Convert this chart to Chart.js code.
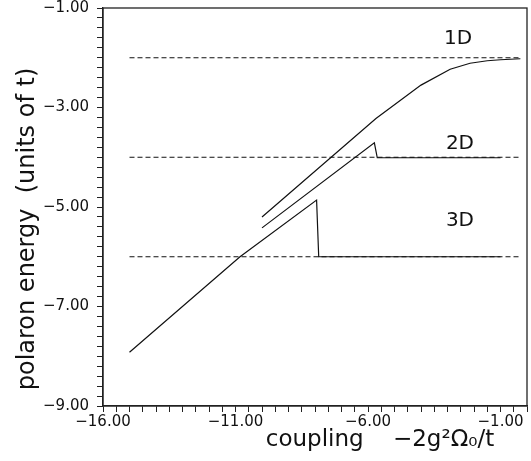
<!DOCTYPE html>
<html>
<head>
<meta charset="utf-8">
<script src="https://cdn.jsdelivr.net/npm/chart.js@4"></script>
<style>
  html, body { margin: 0; padding: 0; background: #fff; }
  #wrap { width: 531px; height: 461px; }
</style>
</head>
<body>
<div id="wrap"><canvas id="polaronChart"></canvas></div>
<script>
// curves: coupling (x) and polaron energy (y)
var oneD_x = [-10.0, -5.7, -4.0, -2.9, -2.15, -1.5, -1.0, -0.25];
var oneD_y = [-5.20, -3.22, -2.55, -2.23, -2.11, -2.06, -2.04, -2.02];
var twoD_x = [-10.0, -5.76, -5.65, -1.0];
var twoD_y = [-5.42, -3.71, -4.01, -4.01];
var threeD_x = [-15.0, -10.83, -7.94, -7.86, -1.0];
var threeD_y = [-7.92, -6.00, -4.86, -6.00, -6.00];
// dashed reference levels
var limit_levels = [-2, -4, -6];
var limit_from = -15.0;
var limit_to = -0.3;
// labels for the curves
var curve_names = ["1D", "2D", "3D"];
var name_x = [-2.6, -2.53, -2.53];
var name_y = [-1.62, -3.72, -5.27];

function toPoints(xs, ys) {
    var pts = [];
    for (var i = 0; i < xs.length; i++) {
        pts.push({x: xs[i], y: ys[i]});
    }
    return pts;
}

function fmt(v) {
    return v.toFixed(2).replace("-", "\u2212");
}

var datasets = [];
limit_levels.forEach(function(lv) {
    datasets.push({
        data: [{x: limit_from, y: lv}, {x: limit_to, y: lv}],
        borderColor: '#111',
        borderWidth: 1,
        borderDash: [5, 3],
        pointRadius: 0
    });
});
[[oneD_x, oneD_y], [twoD_x, twoD_y], [threeD_x, threeD_y]].forEach(function(c) {
    datasets.push({
        data: toPoints(c[0], c[1]),
        borderColor: '#111',
        borderWidth: 1.2,
        pointRadius: 0
    });
});

var frameAndText = {
    id: 'frameAndText',
    afterDraw: function(chart) {
        var ctx = chart.ctx;
        var a = chart.chartArea;
        var xs = chart.scales.x, ys = chart.scales.y;
        ctx.save();
        ctx.strokeStyle = '#222';
        ctx.lineWidth = 1.3;
        ctx.strokeRect(a.left, a.top, a.right - a.left, a.bottom - a.top);
        ctx.fillStyle = '#111';
        ctx.font = '20px "DejaVu Sans"';
        ctx.textAlign = 'center';
        ctx.textBaseline = 'middle';
        for (var i = 0; i < curve_names.length; i++) {
            ctx.fillText(curve_names[i], xs.getPixelForValue(name_x[i]), ys.getPixelForValue(name_y[i]));
        }
        // axis titles
        ctx.font = '23px "DejaVu Sans"';
        ctx.fillText('coupling    \u22122g\u00b2\u03a9\u2080/t', 380, 440);
        ctx.translate(28, 229);
        ctx.rotate(-Math.PI / 2);
        ctx.font = '24px "DejaVu Sans"';
        ctx.fillText('polaron energy  (units of t)', 0, 0);
        ctx.restore();
    }
};

var ctx1 = document.getElementById("polaronChart");
var polaronChart = new Chart(ctx1, {
    type: 'line',
    data: { datasets: datasets },
    options: {
        responsive: true,
        maintainAspectRatio: false,
        animation: false,
        layout: { padding: { top: 0, right: 4, left: 0, bottom: 0 } },
        plugins: { legend: { display: false }, tooltip: { enabled: false } },
        scales: {
            x: {
                type: 'linear',
                min: -16,
                max: 0,
                afterFit: function(s) {
                    s.height = 55;
                    s.paddingLeft = 0;
                    s.paddingRight = 0;
                },
                border: { display: true, color: '#222', width: 1.3 },
                grid: { drawOnChartArea: false, tickLength: 6, color: '#222' },
                ticks: {
                    stepSize: 0.5,
                    autoSkip: false,
                    maxRotation: 0,
                    padding: 1,
                    color: '#111',
                    font: { family: 'DejaVu Sans', size: 15 },
                    callback: function(v) {
                        var k = (v + 16) / 5;
                        return Math.abs(k - Math.round(k)) < 1e-6 ? fmt(v) : '';
                    }
                }
            },
            y: {
                type: 'linear',
                min: -9,
                max: -1,
                afterFit: function(s) {
                    s.width = 103;
                    s.paddingTop = 8;
                    s.paddingBottom = 0;
                },
                border: { display: true, color: '#222', width: 1.3 },
                grid: { drawOnChartArea: false, tickLength: 6, color: '#222' },
                ticks: {
                    stepSize: 0.2,
                    autoSkip: false,
                    padding: 8,
                    color: '#111',
                    font: { family: 'DejaVu Sans', size: 15 },
                    callback: function(v) {
                        var k = (v + 9) / 2;
                        return Math.abs(k - Math.round(k)) < 1e-6 ? fmt(v) : '';
                    }
                }
            }
        }
    },
    plugins: [frameAndText]
});
</script>
</body>
</html>
